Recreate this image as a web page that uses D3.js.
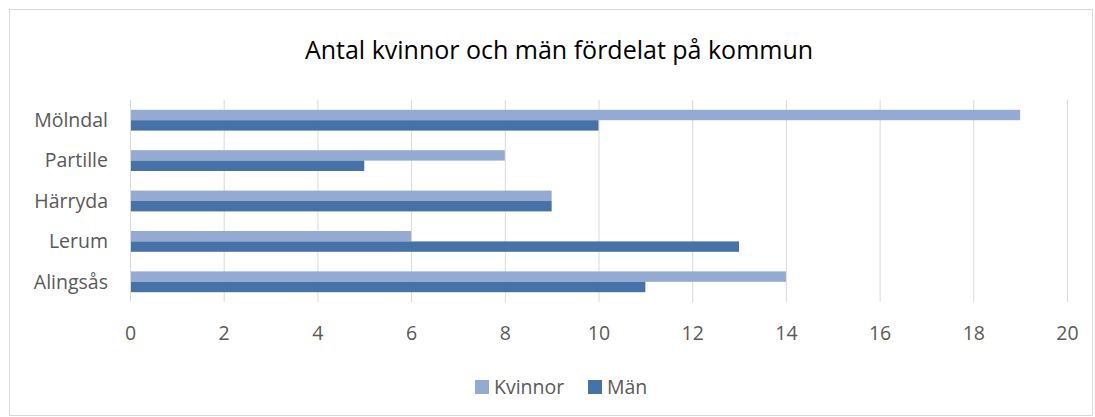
<!DOCTYPE html>
<html><head><meta charset="utf-8">
<script src="https://cdn.jsdelivr.net/npm/d3@7"></script>
<style>body{margin:0;background:#fff;} svg{display:block;font-family:"Open Sans","Noto Sans",sans-serif;}</style>
</head><body>
<svg id="c" width="1095" height="417"></svg>
<script>
const categories = ["Mölndal","Partille","Härryda","Lerum","Alingsås"];
const kvinnor = [19, 8, 9, 6, 14];
const man = [10, 5, 9, 13, 11];
const seriesNames = ["Kvinnor","Män"];
const xTicks = [0,2,4,6,8,10,12,14,16,18,20];
const title = "Antal kvinnor och män fördelat på kommun";
const colors = ["#94AAD2","#4672A7"];

const svg = d3.select("#c");
svg.append("rect").attr("x",9.5).attr("y",9.5).attr("width",1083).attr("height",406)
  .attr("fill","#fff").attr("stroke","#d9d9d9");

const x = d3.scaleLinear().domain([0,20]).range([130,1067]);
const y = d3.scaleBand().domain(categories).range([100,302]).paddingInner(0).paddingOuter(0);
const barH = 10.4;
const sub = d3.scaleBand().domain(seriesNames)
  .range([(y.bandwidth()-2*barH)/2, (y.bandwidth()+2*barH)/2]);

// gridlines
svg.append("g").selectAll("line").data(xTicks).join("line")
  .attr("x1",d=>x(d)+0.5).attr("x2",d=>x(d)+0.5).attr("y1",100).attr("y2",302)
  .attr("stroke","#d9d9d9").attr("stroke-width",1);

const data = categories.map((c,i)=>({c, vals:[kvinnor[i], man[i]]}));
const g = svg.append("g");
data.forEach(d=>{
  d.vals.forEach((v,j)=>{
    g.append("rect").attr("x",x(0)+1).attr("y",y(d.c)+sub(seriesNames[j]))
      .attr("width",x(v)-x(0)-1).attr("height",sub.bandwidth()).attr("fill",colors[j]);
  });
});

// axes
const xa = d3.axisBottom(x).tickValues(xTicks).tickSize(0).tickPadding(0);
svg.append("g").attr("transform","translate(0,326)").call(xa)
  .call(s=>s.select(".domain").remove())
  .selectAll("text").attr("font-size",19.5).attr("fill","#595959").attr("font-family","Open Sans");

const ya = d3.axisLeft(y).tickSize(0).tickPadding(0);
svg.append("g").attr("transform","translate(108,0)").call(ya)
  .call(s=>s.select(".domain").remove())
  .selectAll("text").attr("font-size",19.5).attr("fill","#595959").attr("font-family","Open Sans").attr("dy","0.35em");

svg.append("text").attr("x",559).attr("y",59).attr("text-anchor","middle")
  .attr("font-size",25).attr("fill","#000").text(title);

// legend
const leg = svg.append("g");
const legX = [475, 588];
seriesNames.forEach((n,i)=>{
  leg.append("rect").attr("x",legX[i]).attr("y",380).attr("width",14).attr("height",14).attr("fill",colors[i]);
  leg.append("text").attr("x",legX[i]+19).attr("y",387).attr("dy","0.35em")
    .attr("font-size",19.5).attr("fill","#595959").text(n);
});
</script>
</body></html>
